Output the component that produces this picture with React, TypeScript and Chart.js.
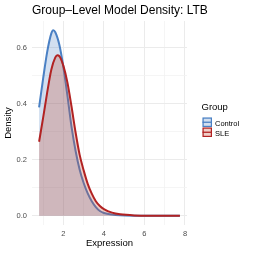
import React, { useEffect, useRef } from "react";
import { Chart, registerables } from "chart.js";

Chart.register(...registerables);

const TITLE = "Group\u2013Level Model Density: LTB";
const GROUPS = ["Control", "SLE"];

const controlX = [0.8, 1.0, 1.2, 1.4, 1.5, 1.6, 1.8, 2.0, 2.2, 2.4, 2.6, 2.8, 3.0, 3.2, 3.4, 3.6, 3.8, 4.0, 4.4, 4.8, 5.5, 6.5, 7.75];
const controlY = [0.387, 0.49, 0.585, 0.65, 0.662, 0.655, 0.61, 0.53, 0.428, 0.318, 0.232, 0.165, 0.117, 0.08, 0.052, 0.031, 0.017, 0.01, 0.004, 0.0015, 0.0003, 0.00005, 0];

const sleX = [0.8, 1.0, 1.2, 1.4, 1.6, 1.7, 1.8, 2.0, 2.2, 2.4, 2.6, 2.8, 3.0, 3.2, 3.4, 3.6, 3.8, 4.0, 4.4, 4.8, 5.5, 6.5, 7.75];
const sleY = [0.264, 0.35, 0.44, 0.52, 0.565, 0.573, 0.57, 0.535, 0.475, 0.39, 0.298, 0.218, 0.162, 0.114, 0.079, 0.052, 0.035, 0.024, 0.011, 0.005, 0.0012, 0.0002, 0];

const xTicks = [1, 2, 3, 4, 5, 6, 7, 8];
const yTicks = [0, 0.1, 0.2, 0.3, 0.4, 0.5, 0.6];

const LINE_COLORS = ["rgb(74,128,196)", "rgb(178,34,34)"];
const FILL_COLORS = ["rgba(74,128,196,0.25)", "rgba(200,80,55,0.28)"];

const FONT = "'Liberation Sans', Arial, Helvetica, sans-serif";

const overlayPlugin = {
  id: "overlay",
  afterDraw(chart: any) {
    const ctx = chart.ctx;
    const area = chart.chartArea;
    ctx.save();
    ctx.fillStyle = "#000";
    ctx.font = `12px ${FONT}`;
    ctx.textAlign = "left";
    ctx.textBaseline = "alphabetic";
    ctx.fillText(TITLE, area.left, 14);

    // legend
    ctx.font = `9.5px ${FONT}`;
    ctx.fillText("Group", 201.5, 110);
    const keyX = 202.5;
    const keyTop = 117.5;
    const keySize = 9.5;
    for (let i = 0; i < GROUPS.length; i++) {
      const y = keyTop + i * 10;
      ctx.fillStyle = "#fff";
      ctx.fillRect(keyX, y, keySize, keySize);
      ctx.fillStyle = FILL_COLORS[i];
      ctx.fillRect(keyX, y, keySize, keySize);
      ctx.strokeStyle = LINE_COLORS[i];
      ctx.lineWidth = 1.2;
      ctx.strokeRect(keyX + 0.6, y + 0.6, keySize - 1.2, keySize - 1.2);
      ctx.beginPath();
      ctx.moveTo(keyX, y + keySize / 2);
      ctx.lineTo(keyX + keySize, y + keySize / 2);
      ctx.lineWidth = 1.3;
      ctx.stroke();
      ctx.fillStyle = "#000";
      ctx.font = `7.5px ${FONT}`;
      ctx.fillText(GROUPS[i], 215, y + 8.3);
    }
    ctx.restore();
  },
};

export default function App() {
  const ref = useRef<HTMLCanvasElement | null>(null);
  useEffect(() => {
    if (!ref.current) return;
    const mk = (xs: number[], ys: number[]) => xs.map((x, i) => ({ x, y: ys[i] }));
    const chart = new Chart(ref.current, {
      type: "line",
      data: {
        datasets: [
          {
            label: GROUPS[0],
            data: mk(controlX, controlY),
            borderColor: LINE_COLORS[0],
            backgroundColor: FILL_COLORS[0],
            borderWidth: 2,
            fill: "origin",
            pointRadius: 0,
            cubicInterpolationMode: "monotone",
            order: 1,
          },
          {
            label: GROUPS[1],
            data: mk(sleX, sleY),
            borderColor: LINE_COLORS[1],
            backgroundColor: FILL_COLORS[1],
            borderWidth: 2,
            fill: "origin",
            pointRadius: 0,
            cubicInterpolationMode: "monotone",
            order: 0,
          },
        ] as any,
      },
      options: {
        animation: false,
        responsive: false,
        devicePixelRatio: 1,
        layout: { padding: { top: 21, right: 67, left: 0, bottom: 0 } },
        plugins: {
          legend: { display: false },
          tooltip: { enabled: false },
          title: { display: false },
        },
        scales: {
          x: {
            type: "linear",
            min: 0.45,
            max: 8.1,
            afterBuildTicks: (axis: any) => {
              axis.ticks = xTicks.map((v) => ({ value: v }));
            },
            afterFit: (axis: any) => {
              axis.height = 29;
            },
            grid: {
              color: (c: any) => (c.tick && c.tick.value % 2 === 0 ? "#ebebeb" : "#f3f3f3"),
              lineWidth: (c: any) => (c.tick && c.tick.value % 2 === 0 ? 1 : 0.8),
              drawTicks: false,
            },
            border: { display: false },
            ticks: {
              padding: 4,
              color: "#4d4d4d",
              font: { family: FONT, size: 7.5 },
              maxRotation: 0,
              callback: (v: any) => (Number(v) % 2 === 0 ? String(v) : ""),
            },
            title: {
              display: true,
              text: "Expression",
              color: "#000",
              font: { family: FONT, size: 9.5 },
              padding: { top: 0, bottom: 5 },
            },
          },
          y: {
            type: "linear",
            min: -0.033,
            max: 0.695,
            afterBuildTicks: (axis: any) => {
              axis.ticks = yTicks.map((v) => ({ value: v }));
            },
            afterFit: (axis: any) => {
              axis.width = 32;
            },
            grid: {
              color: (c: any) => {
                const v = c.tick ? Math.round(c.tick.value * 10) : 0;
                return v % 2 === 0 ? "#ebebeb" : "#f3f3f3";
              },
              lineWidth: (c: any) => {
                const v = c.tick ? Math.round(c.tick.value * 10) : 0;
                return v % 2 === 0 ? 1 : 0.8;
              },
              drawTicks: false,
            },
            border: { display: false },
            ticks: {
              padding: 5,
              color: "#4d4d4d",
              font: { family: FONT, size: 7.5 },
              callback: (v: any) => {
                const r = Math.round(Number(v) * 10);
                return r % 2 === 0 ? Number(v).toFixed(1) : "";
              },
            },
            title: {
              display: true,
              text: "Density",
              color: "#000",
              font: { family: FONT, size: 9.5 },
              padding: { top: 3, bottom: 0 },
            },
          },
        },
      } as any,
      plugins: [overlayPlugin],
    });
    return () => chart.destroy();
  }, []);
  return (
    <canvas
      ref={ref}
      width={254}
      height={254}
      style={{ position: "fixed", left: 0, top: 0, width: 254, height: 254, background: "#fff" }}
    />
  );
}
